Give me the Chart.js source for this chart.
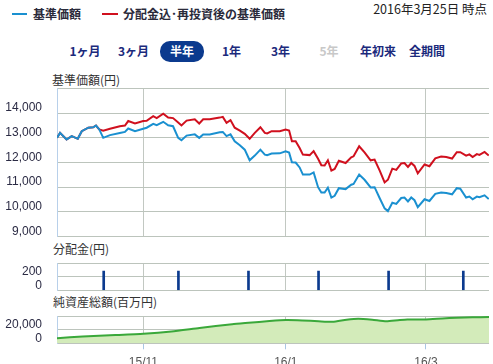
<!DOCTYPE html>
<html><head><meta charset="utf-8">
<script src="https://cdn.jsdelivr.net/npm/chart.js@4"></script>
<style>
html,body{margin:0;padding:0;background:#fff;}
#wrap{position:relative;width:493px;height:364px;overflow:hidden;font-family:"Noto Sans CJK JP","Noto Sans",sans-serif;color:#333;background:#fff;}
.abs{position:absolute;white-space:nowrap;line-height:1;}
.btn{position:absolute;top:45px;font-size:12px;font-weight:bold;color:#1b2a7c;line-height:1;white-space:nowrap;transform:translateX(-50%);}
canvas{position:absolute;left:0;}
</style></head><body>
<div id="wrap">
  <div class="abs" style="left:12px;top:13px;width:15px;height:2px;background:#1a90d0"></div>
  <div class="abs" style="left:33px;top:8px;font-size:12px;font-weight:bold;color:#2a2a3a;">基準価額</div>
  <div class="abs" style="left:102px;top:13px;width:16px;height:2px;background:#d0101e"></div>
  <div class="abs" style="left:123px;top:8px;font-size:12px;font-weight:bold;color:#2a2a3a;">分配金込･再投資後の基準価額</div>
  <div class="abs" style="right:6px;top:3px;font-size:12.5px;color:#222;">2016年3月25日 時点</div>

  <div class="abs" style="left:160px;top:41px;width:44px;height:21px;border-radius:10px;background:#0b3a8e;"></div>
  <div class="btn" style="left:85px;">1ヶ月</div>
  <div class="btn" style="left:133.5px;">3ヶ月</div>
  <div class="btn" style="left:182px;color:#fff;">半年</div>
  <div class="btn" style="left:231.5px;">1年</div>
  <div class="btn" style="left:280.5px;">3年</div>
  <div class="btn" style="left:329px;color:#c8c8c8;">5年</div>
  <div class="btn" style="left:378px;">年初来</div>
  <div class="btn" style="left:427px;">全期間</div>

  <div class="abs" style="left:52px;top:74px;font-size:12px;">基準価額(円)</div>
  <div class="abs" style="left:53px;top:243px;font-size:12px;">分配金(円)</div>
  <div class="abs" style="left:53px;top:296px;font-size:12px;">純資産総額(百万円)</div>

  <canvas id="c1" width="493" height="165" style="top:80px;"></canvas>
  <canvas id="c2" width="493" height="46" style="top:254px;"></canvas>
  <canvas id="c3" width="493" height="60" style="top:307px;"></canvas>
</div>
<script>
// x values: days after 2015-09-25
const tickDays = [37, 98, 158];
const tickLabels = ['15/11', '16/1', '16/3'];

const navDays = [0,1.3,4.1,6.3,8.9,10.6,13.4,15.5,16.7,18.1,19.8,22.7,26.9,29.1,30.5,33.4,36.9,38.4,41.2,42.7,45.5,47.6,49.7,51.9,53.3,55.5,59.0,60.9,62.6,65.4,69.7,71.0,72.6,74.3,76.1,78.3,80.4,82.5,84.7,87.1,89.0,90.0,91.9,95.4,97.9,99.4,100.6,102.2,103.9,105.3,108.2,109.9,111.8,113.2,114.6,116.0,117.5,118.9,120.7,123.6,126.0,127.0,129.4,131.7,134.3,136.0,138.2,140.3,141.7,143.6,145.3,147.4,148.8,150.3,151.7,153.1,154.5,157.4,159.5,162.0,164.5,166.7,169.2,171.2,172.7,175.2,176.6,178.0,179.8,180.9,183.1,184.9];
const navValues = [13000,13200,12930,13070,12960,13270,13410,13430,13500,13340,13000,13110,13200,13240,13380,13270,13370,13410,13570,13510,13650,13510,13470,13000,12900,13090,13140,13000,13140,13140,13230,13240,13070,13140,12860,12700,12520,12090,12280,12520,12320,12300,12360,12370,12450,12400,12010,12000,11800,11510,11510,11600,11000,10780,10780,10980,10580,10650,10960,10920,11100,11130,11510,11300,10990,11000,10550,10140,10030,10370,10320,10560,10580,10420,10580,10470,10190,10510,10440,10730,10780,10760,10710,10960,10940,10580,10620,10510,10620,10590,10670,10520];
const reinvValues = [13000,13200,12930,13070,12960,13270,13410,13430,13500,13340,13290,13370,13470,13500,13680,13580,13680,13690,13880,13800,13980,13820,13800,13620,13500,13700,13750,13580,13750,13750,13820,13850,13610,13720,13410,13290,13160,12960,13200,13430,13200,13180,13270,13270,13340,13300,12860,12860,12590,12320,12300,12460,12150,11890,11880,12090,11670,11740,12070,11980,12210,12250,12660,12410,12090,12120,11670,11190,11300,11750,11700,11960,11980,11820,11980,11860,11560,11920,11850,12170,12240,12220,12160,12420,12420,12280,12330,12220,12340,12310,12430,12280];

const divDays = [20, 52, 82, 112, 142, 174];
const divValues = [280, 280, 280, 280, 280, 280];

const assetDays = [0, 11, 25, 37, 49, 61, 75, 82, 91, 98, 105, 112, 118, 124, 129, 135, 141, 146, 150, 158, 165, 171, 178, 185];
const assetValues = [7500, 9900, 12000, 14000, 17400, 22500, 28000, 30000, 32500, 34000, 33500, 32300, 31500, 34500, 36000, 34500, 32200, 33800, 35000, 35000, 36500, 37500, 38000, 38500];

const GRID = '#c2c8c2';
const HGRID = '#bcc4bc';
Chart.defaults.font.family = '"Liberation Sans", Arial, sans-serif';
Chart.defaults.font.size = 12;
Chart.defaults.color = '#333';

function xScale(showLabels, axisHeight) {
  return {
    type: 'linear', min: 0, max: 185, offset: false,
    afterBuildTicks: s => { s.ticks = tickDays.map(v => ({ value: v })); },
    afterFit: s => { s.height = axisHeight; s.paddingLeft = 0; s.paddingRight = 0; s.paddingTop = 0; s.paddingBottom = 0; },
    ticks: {
      display: showLabels, autoSkip: false, maxRotation: 0, color: '#555', padding: 6,
      callback: v => { const i = tickDays.indexOf(v); return i >= 0 ? tickLabels[i] : ''; }
    },
    grid: { color: GRID, drawTicks: showLabels, tickLength: 6, tickColor: '#a9c6e4', offset: false },
    border: { display: false }
  };
}
function yScale(min, max, step) {
  return {
    type: 'linear', min: min, max: max,
    afterFit: s => { s.width = 57; s.paddingTop = 0; s.paddingBottom = 0; },
    ticks: {
      stepSize: step, padding: 15, labelOffset: -5, color: '#2b2b44', autoSkip: false,
      callback: v => v === max ? '' : v.toLocaleString('en-US')
    },
    grid: { display: true, drawOnChartArea: true, color: HGRID, lineWidth: 1, drawTicks: false },
    border: { display: true, color: '#b8d0ea' }
  };
}
const common = {
  responsive: false, animation: false,
  plugins: { legend: { display: false }, tooltip: { enabled: false } }
};

new Chart(document.getElementById('c1'), {
  type: 'line',
  data: {
    datasets: [
      { data: navDays.map((d, i) => ({ x: d, y: navValues[i] })), borderColor: '#1a90d0', borderWidth: 2, pointRadius: 0, tension: 0 },
      { data: navDays.map((d, i) => ({ x: d, y: reinvValues[i] })), borderColor: '#d0101e', borderWidth: 2, pointRadius: 0, tension: 0 }
    ]
  },
  options: Object.assign({}, common, {
    layout: { padding: { top: 8.5, bottom: 8.5, left: 0, right: 4 } },
    scales: { x: xScale(false, 0), y: yScale(9000, 15000, 1000) }
  })
});

new Chart(document.getElementById('c2'), {
  type: 'bar',
  data: {
    datasets: [
      { data: divDays.map((d, i) => ({ x: d, y: divValues[i] })), backgroundColor: '#0b3a8e', barThickness: 2 }
    ]
  },
  options: Object.assign({}, common, {
    layout: { padding: { top: 9, bottom: 9.7, left: 0, right: 4 } },
    scales: { x: xScale(false, 0), y: yScale(0, 400, 200) }
  })
});

new Chart(document.getElementById('c3'), {
  type: 'line',
  data: {
    datasets: [
      { data: assetDays.map((d, i) => ({ x: d, y: assetValues[i] })), borderColor: '#3aa83a', backgroundColor: '#d3ebba', fill: 'origin', borderWidth: 2, pointRadius: 0, tension: 0.2 }
    ]
  },
  options: Object.assign({}, common, {
    layout: { padding: { top: 9, bottom: 0, left: 0, right: 4 } },
    scales: { x: xScale(true, 23.7), y: yScale(0, 40000, 20000) }
  })
});
</script>
</body></html>
